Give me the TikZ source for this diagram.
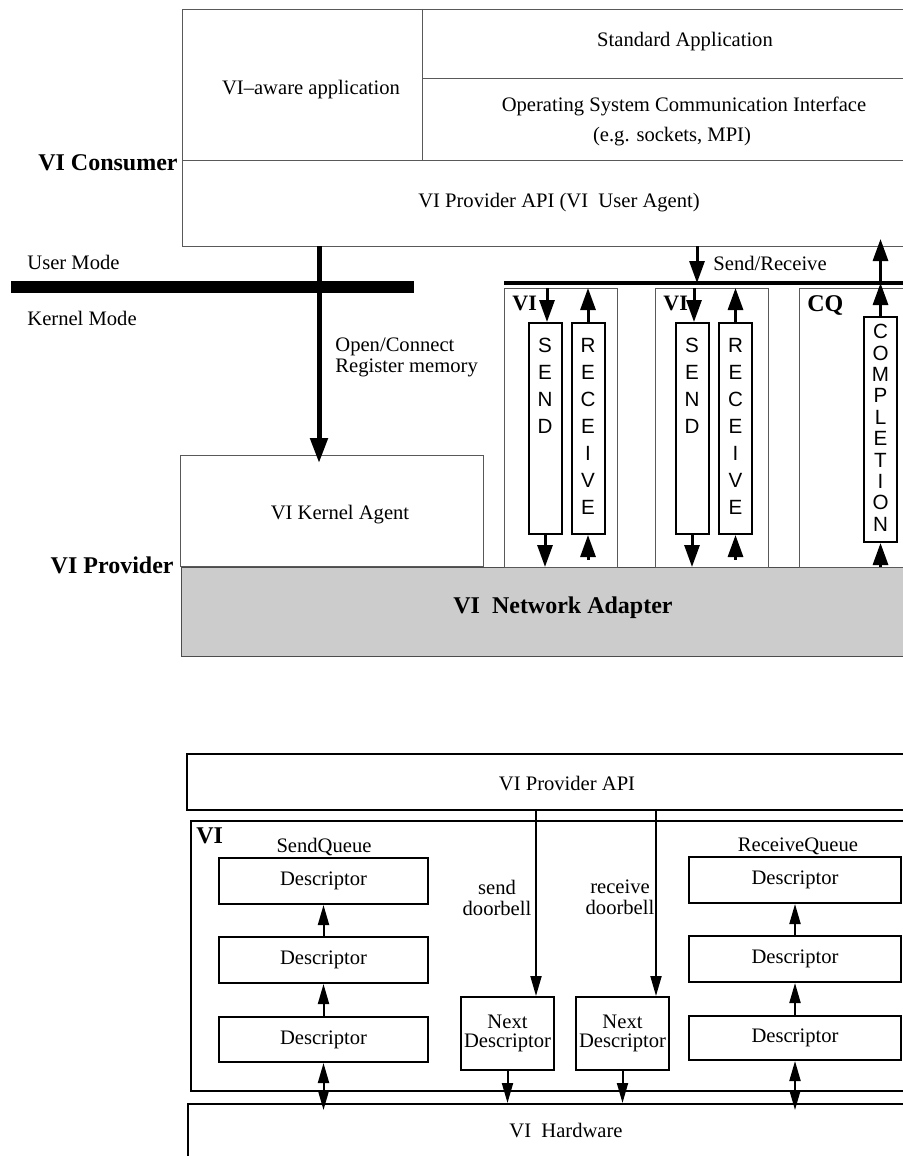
\documentclass[tikz,border=0pt]{standalone}
\usepackage{fontspec}
\setmainfont{Liberation Serif}
\newfontfamily\queuefont{Liberation Sans}
\usetikzlibrary{arrows.meta,calc,positioning}
\tikzset{
  via picture/.style={
    x=0.5pt,
    y=-0.5pt,
    line join=miter
  },
  via frame/.style={
    draw=black!65,
    line width=0.5pt,
    inner sep=0pt,
    anchor=north west
  },
  via rule/.style={
    draw=black!65,
    line width=0.5pt
  },
  via box/.style={
    draw,
    line width=1pt,
    inner sep=0pt
  },
  via label/.style={
    font=\fontsize{10.3}{12}\selectfont,
    inner sep=1pt
  },
  via title/.style={
    font=\bfseries\fontsize{12}{14}\selectfont,
    inner sep=0pt
  },
  via small title/.style={
    font=\bfseries\fontsize{11}{13}\selectfont,
    inner sep=0pt
  },
  via letters/.style={
    font=\queuefont\fontsize{10.3}{13.5}\selectfont,
    align=center,
    inner sep=0pt
  },
  via desc/.style={
    via box,
    font=\fontsize{10.3}{12}\selectfont,
    minimum width=104.5pt,
    minimum height=23pt
  },
  via arrow/.style={
    line width=1.5pt,
    -{Triangle[length=11pt,width=7.5pt]}
  },
  via thick arrow/.style={
    line width=2.5pt,
    -{Triangle[length=12.5pt,width=8.5pt]}
  },
  via link/.style={
    line width=1pt,
    -{Triangle[length=10pt,width=5.5pt]}
  },
  via both/.style={
    line width=1pt,
    {Triangle[length=10pt,width=5.5pt]}-{Triangle[length=10pt,width=5.5pt]}
  }
}
\begin{document}
\begin{tikzpicture}[via picture]
  \useasboundingbox (0,0) rectangle (903,1156);
  \clip (0,0) rectangle (903,1156);

  % consumer
  \node[via frame, minimum width=369pt, minimum height=118.5pt] (consumer) at (182,9) {};
  \draw[via rule] (422,9) -- (422,160);
  \draw[via rule] (422,79) -- (920,79);
  \draw[via rule] (182,160) -- (920,160);
  \node[via label] (stdapp) at (685,42) {Standard Application};
  \node[via label] (aware) at (311,90) {VI--aware application};
  \node[via label] (osci) at (684,106) {Operating System Communication Interface};
  \node[via label] (sockets) at (672,137) {(e.g. sockets, MPI)};
  \node[via label] (useragent) at (559,203) {VI Provider API (VI\enspace User Agent)};
  \node[via title, anchor=east] (consumerlbl) at (178,163) {VI Consumer};

  \node[via label, anchor=west] (usermode) at (25,262) {User Mode};
  \node[via label, anchor=west] (kernelmode) at (25,318) {Kernel Mode};
  \fill (11,281) rectangle (414,293);

  % provider
  \node[via frame, minimum width=151.5pt, minimum height=55.5pt] (kagent) at (180,455) {};
  \node[via label] (kagentlbl) at (340,515) {VI Kernel Agent};
  \coordinate (open) at (319,246);
  \draw[via thick arrow] (open) -- ($(open |- kagent.north)+(0,8)$);
  \node[via label, anchor=west, align=left, font=\fontsize{10.3}{10.5}\selectfont] (openlbl) at (333,357.5) {Open/Connect\\Register memory};

  \node[via frame, draw=black!70, fill=black!20, minimum width=369.5pt, minimum height=44.5pt] (adapter) at (181,567) {};
  \node[via title] (adapterlbl) at (563,608) {VI\enspace Network Adapter};
  \node[via title, anchor=east] (providerlbl) at (174,565) {VI Provider};

  \node[via frame, minimum width=56.5pt, minimum height=139.5pt] (vi1) at (504,288) {};
  \node[via frame, minimum width=56.5pt, minimum height=139.5pt] (vi2) at (655,288) {};
  \node[via frame, minimum width=60.5pt, minimum height=139.5pt] (cq) at (799,288) {};
  \node[via small title, below right=4pt and 4pt of vi1.north west] (vi1lbl) {VI};
  \node[via small title, below right=4pt and 4pt of vi2.north west] (vi2lbl) {VI};
  \node[via title, below right=3.5pt and 4pt of cq.north west] (cqlbl) {CQ};

  \coordinate (bar) at (504,283);
  \draw[line width=2pt] (bar) -- (920,283);
  \coordinate (sendrecv) at (697,246);
  \draw[via arrow] (sendrecv) -- (sendrecv |- bar);
  \node[via label, anchor=west] (sendrecvlbl) at (711,263) {Send/Receive};

  \node[via box, minimum width=16.5pt, minimum height=105.5pt] (send1) at (545,428.5) {};
  \node[via box, minimum width=16.5pt, minimum height=105.5pt] (recv1) at (588,428.5) {};
  \node[via box, minimum width=16.5pt, minimum height=105.5pt] (send2) at (692,428.5) {};
  \node[via box, minimum width=16.5pt, minimum height=105.5pt] (recv2) at (735.5,428.5) {};
  \node[via box, minimum width=16.5pt, minimum height=112.5pt] (compl) at (880.5,429.5) {};
  \node[via letters, below=8pt of send1.north] (send1txt) {S\\E\\N\\D};
  \node[via letters, below=8pt of recv1.north] (recv1txt) {R\\E\\C\\E\\I\\V\\E};
  \node[via letters, below=8pt of send2.north] (send2txt) {S\\E\\N\\D};
  \node[via letters, below=8pt of recv2.north] (recv2txt) {R\\E\\C\\E\\I\\V\\E};
  \node[via letters, font=\queuefont\fontsize{10.3}{10.7}\selectfont, below=4pt of compl.north] (compltxt) {C\\O\\M\\P\\L\\E\\T\\I\\O\\N};

  \draw[via arrow] ([xshift=1pt]send1.north |- vi1.north) -- ([xshift=1pt]send1.north);
  \draw[via arrow] (send1.south) -- (send1.south |- adapter.north);
  \draw[via arrow] (recv1.north) -- (recv1.north |- vi1.north);
  \draw[via arrow] ($(recv1.south |- adapter.north)+(0,-7)$) -- (recv1.south);
  \draw[via arrow] ([xshift=1pt]send2.north |- vi2.north) -- ([xshift=1pt]send2.north);
  \draw[via arrow] (send2.south) -- (send2.south |- adapter.north);
  \draw[via arrow] (recv2.north) -- (recv2.north |- vi2.north);
  \draw[via arrow] ($(recv2.south |- adapter.north)+(0,-7)$) -- (recv2.south);
  \draw[via arrow] (compl.north) -- (compl.north |- bar);
  \draw[via arrow] (compl.north |- bar) -- ($(compl.north |- consumer.south)+(0,-8)$);
  \draw[via arrow] (compl.south |- adapter.north) -- (compl.south);

  % queues
  \node[via box, anchor=north west, minimum width=367pt, minimum height=28pt] (api) at (186,753) {};
  \node[via label] (apilbl) at (567,783) {VI Provider API};
  \node[via box, anchor=north west, minimum width=365pt, minimum height=135pt] (vibox) at (190,820) {};
  \node[via title, below right=3.5pt and 3pt of vibox.north west] (viboxlbl) {VI};
  \node[via box, anchor=north west, minimum width=366.5pt, minimum height=40pt] (hw) at (187,1103) {};
  \node[via label] (hwlbl) at (566,1130) {VI\enspace Hardware};

  \node[via label] (sqlbl) at (324,847) {SendQueue};
  \node[via desc] (sq1) at (323.5,881) {Descriptor};
  \node[via desc] (sq2) at (323.5,960) {Descriptor};
  \node[via desc, minimum height=22.5pt] (sq3) at (323.5,1039.5) {Descriptor};
  \draw[via link] (sq2) -- (sq1);
  \draw[via link] (sq3) -- (sq2);
  \draw[via both] (sq3.south) -- ($(sq3.south |- hw.north)+(0,7)$);

  \node[via label] (rqlbl) at (798,846) {ReceiveQueue};
  \node[via desc, minimum width=106pt] (rq1) at (795,880) {Descriptor};
  \node[via desc, minimum width=106pt] (rq2) at (795,959) {Descriptor};
  \node[via desc, minimum width=106pt, minimum height=22pt] (rq3) at (795,1038) {Descriptor};
  \draw[via link] (rq2) -- (rq1);
  \draw[via link] (rq3) -- (rq2);
  \draw[via both] (rq3.south) -- ($(rq3.south |- hw.north)+(0,7)$);

  \node[via box, align=center, font=\fontsize{10.3}{9.5}\selectfont, minimum width=46.5pt, minimum height=36.5pt] (next1) at (507.5,1033.5) {Next\\Descriptor};
  \node[via box, align=center, font=\fontsize{10.3}{9.5}\selectfont, minimum width=46.5pt, minimum height=36.5pt] (next2) at (622.5,1033.5) {Next\\Descriptor};
  \draw[via link] (next1) -- (next1 |- hw.north);
  \draw[via link] (next2) -- (next2 |- hw.north);

  \coordinate (sendbell) at (536,809);
  \coordinate (recvbell) at (656,809);
  \draw[via link] (sendbell) -- (sendbell |- next1.north);
  \draw[via link] (recvbell) -- (recvbell |- next2.north);
  \node[via label, align=center, font=\fontsize{10.3}{10.5}\selectfont] (sendbelllbl) at (497,897.5) {send\\doorbell};
  \node[via label, align=center, font=\fontsize{10.3}{10.5}\selectfont] (recvbelllbl) at (620,897.5) {receive\\doorbell};

\end{tikzpicture}
\end{document}
